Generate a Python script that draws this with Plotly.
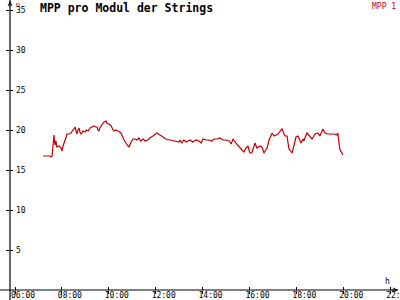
import plotly.graph_objects as go

day = "2024-01-01 "
times = ["07:12","07:30","07:32","07:35","07:37","07:40","07:42","07:45","07:47","07:53",
         "07:58","08:00","08:03","08:05","08:08","08:10","08:13","08:18","08:23","08:26",
         "08:31","08:34","08:36","08:39","08:41","08:44","08:46","08:49","08:51","08:54",
         "08:59","09:02","09:07","09:12","09:17","09:22","09:27","09:30","09:32","09:35",
         "09:37","09:43","09:48","09:53","09:55","10:00","10:06","10:11","10:13","10:18",
         "10:24","10:31","10:39","10:47","10:52","10:57","11:02","11:07","11:12","11:17",
         "11:22","11:28","11:33","11:40","11:45","11:53","11:58","12:03","12:11","12:19",
         "12:26","12:37","12:47","12:54","13:00","13:02","13:07","13:12","13:18","13:23",
         "13:28","13:35","13:43","13:51","13:56","14:01","14:09","14:16","14:24","14:29",
         "14:37","14:44","14:52","15:00","15:08","15:13","15:18","15:25","15:31","15:36",
         "15:41","15:46","15:51","15:56","16:01","16:06","16:14","16:19","16:27","16:32",
         "16:37","16:45","16:50","16:58","17:03","17:13","17:18","17:23","17:31","17:36",
         "17:41","17:49","17:51","17:59","18:04","18:12","18:17","18:19","18:27","18:32",
         "18:40","18:48","18:55","19:00","19:08","19:13","19:21","19:28","19:36","19:44",
         "19:46","19:51","19:57","19:59"]
mpp1 = [16.75,16.75,16.625,16.75,18.0,19.375,18.125,18.625,17.875,18.0,
        17.75,17.375,18.0,18.375,18.75,19.0,19.5,19.5,19.625,19.875,
        20.25,20.375,19.875,19.5,20.0,20.25,19.75,19.5,19.625,19.875,
        19.75,20.0,19.875,20.25,20.375,20.5,20.375,20.375,20.0,19.875,
        20.25,20.625,21.0,21.125,20.875,20.75,20.5,20.0,19.875,20.0,
        19.875,19.625,18.75,18.125,17.875,18.5,18.875,18.875,18.75,19.0,
        18.625,18.875,18.625,18.75,19.0,19.25,19.5,19.625,19.375,19.125,
        18.875,18.75,18.625,18.5,18.5,18.75,18.375,18.75,18.5,18.625,
        18.75,18.5,18.75,18.625,18.375,18.875,18.75,18.75,18.625,18.875,
        18.875,19.0,18.75,18.75,18.625,18.25,18.875,18.375,18.0,17.75,
        17.5,17.25,17.75,18.0,17.125,17.125,18.375,17.75,18.0,17.875,
        17.125,17.75,18.75,19.625,19.25,19.5,19.875,20.125,19.25,19.25,
        17.625,17.125,17.5,19.125,19.25,18.375,18.875,18.625,19.625,19.375,
        18.875,19.5,19.625,19.25,20.125,19.625,19.5,19.5,19.5,19.375,
        19.625,17.625,16.875,16.875]

xticks = ["06:00","08:00","10:00","12:00","14:00","16:00","18:00","20:00","22:00"]
yticks = [5, 10, 15, 20, 25, 30, 35]

red = "#c00000"
mono = "DejaVu Sans Mono"

fig = go.Figure()
fig.add_trace(go.Scatter(x=[day + t for t in times], y=mpp1, mode="lines",
                         line=dict(color=red, width=1.2), name="MPP 1",
                         showlegend=False, hoverinfo="skip"))
# empty trace to realise overlay axes (other halves of crossing ticks)
fig.add_trace(go.Scatter(x=[], y=[], xaxis="x2", yaxis="y2", showlegend=False))

xr = [day + "05:47:13", day + "22:20:00"]
yr = [0, 36.25]
tickv = [day + t for t in xticks]

fig.update_layout(
    width=400, height=300,
    margin=dict(l=10, r=2, t=0, b=10, autoexpand=False),
    paper_bgcolor="white", plot_bgcolor="white",
    font=dict(family=mono, size=8, color="black"),
    xaxis=dict(type="date", range=xr, tickvals=tickv, ticktext=xticks,
               ticks="inside", ticklen=3, tickwidth=1, tickcolor="black",
               showgrid=False, zeroline=False, showline=False, automargin=False,
               ticklabelshift=8, ticklabelstandoff=-1, ticklabeloverflow="allow",
               tickfont=dict(family=mono, size=8, color="black")),
    yaxis=dict(range=yr, tickvals=yticks, ticks="outside", ticklen=3,
               tickwidth=1, tickcolor="black", showgrid=False, zeroline=False,
               showline=False, ticklabelposition="inside", ticklabelstandoff=3,
               automargin=False, ticklabeloverflow="allow",
               tickfont=dict(family=mono, size=8, color="black")),
    xaxis2=dict(type="date", overlaying="x", matches="x", range=xr, tickvals=tickv,
                ticks="outside", ticklen=3, tickcolor="black", showticklabels=False,
                showgrid=False, zeroline=False, side="bottom", automargin=False),
    yaxis2=dict(overlaying="y", matches="y", range=yr, tickvals=yticks,
                ticks="inside", ticklen=3, tickcolor="black", showticklabels=False,
                showgrid=False, zeroline=False, side="left", automargin=False),
    title=dict(text="<b>MPP pro Modul der Strings</b>", x=40/400, xanchor="left",
               xref="container", y=1 - 8/300, yref="container", yanchor="middle",
               font=dict(family=mono, size=11.5, color="black"), automargin=False),
    showlegend=False,
)

# axis lines (paper coordinates)
fig.add_shape(type="line", xref="paper", yref="paper", x0=-10/388, x1=1, y0=0, y1=0,
              line=dict(color="black", width=1.2))
fig.add_shape(type="line", xref="paper", yref="paper", x0=0, x1=0, y0=-10/290, y1=1,
              line=dict(color="black", width=1.2))
# arrowheads
fig.add_annotation(xref="paper", yref="paper", x=1, y=0, ax=-8, ay=0,
                   showarrow=True, arrowhead=5, arrowsize=0.8, arrowwidth=1,
                   arrowcolor="black", text="")
fig.add_annotation(xref="paper", yref="paper", x=0, y=1, ax=0, ay=8, showarrow=True,
                   arrowhead=5, arrowsize=0.8, arrowwidth=1, arrowcolor="black", text="")

# axis unit labels and legend
fig.add_annotation(xref="paper", yref="paper", x=4/388, y=1.005, xanchor="left", yanchor="top",
                   text="U", showarrow=False, font=dict(family=mono, size=6, color="black"))
fig.add_annotation(xref="paper", yref="paper", x=377/388, y=9/290, xanchor="center",
                   yanchor="middle", text="h", showarrow=False,
                   font=dict(family=mono, size=8, color="black"))
fig.add_annotation(xref="paper", yref="paper", x=1, y=1, xanchor="right", yanchor="top",
                   text="MPP 1", showarrow=False, font=dict(family=mono, size=8, color=red))

fig.write_html("out.html")
